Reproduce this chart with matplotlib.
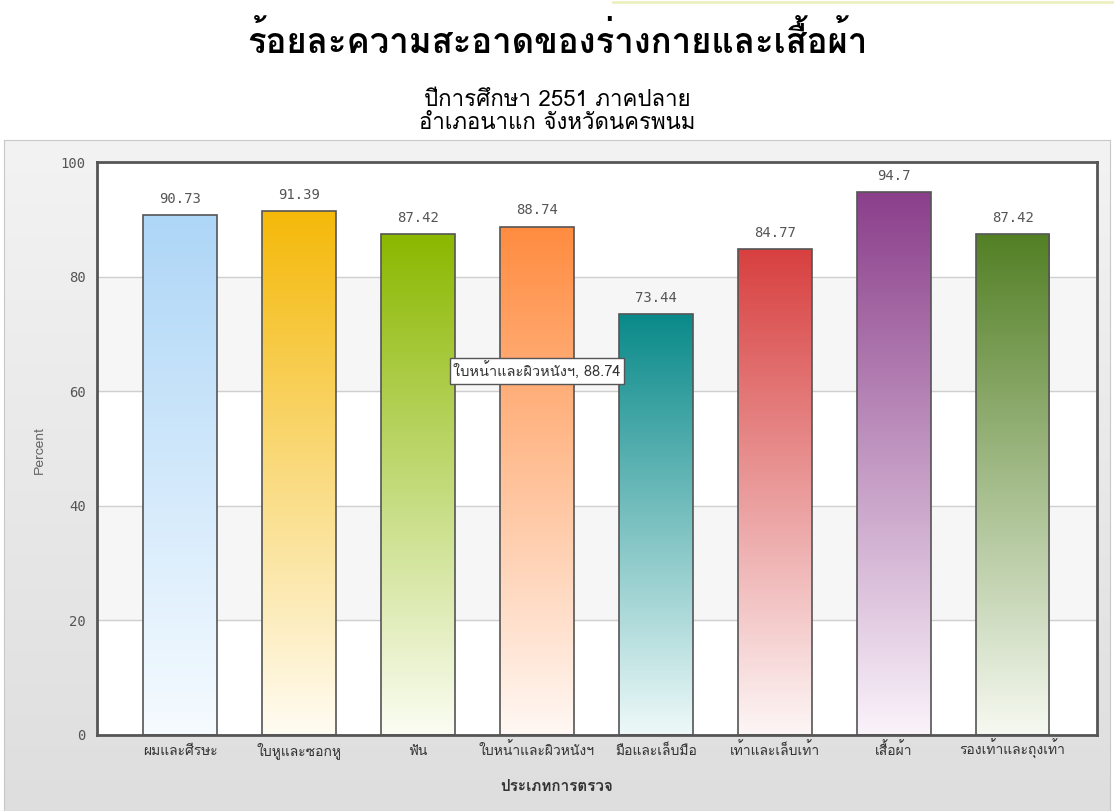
import matplotlib
matplotlib.use('Agg')
import matplotlib.pyplot as plt
import matplotlib.font_manager as font_manager
import matplotlib.transforms as mtransforms
from matplotlib.ft2font import FT2Font
from matplotlib.colors import to_rgb, LinearSegmentedColormap
from matplotlib.patches import Rectangle
import numpy as np

categories = ['ผมและศีรษะ', 'ใบหูและซอกหู', 'ฟัน', 'ใบหน้าและผิวหนังฯ',
              'มือและเล็บมือ', 'เท้าและเล็บเท้า', 'เสื้อผ้า', 'รองเท้าและถุงเท้า']
values = [90.73, 91.39, 87.42, 88.74, 73.44, 84.77, 94.7, 87.42]
value_labels = ['90.73', '91.39', '87.42', '88.74', '73.44', '84.77', '94.7', '87.42']
top_colors = ['#aed6f7', '#f5b90a', '#8bb800', '#ff8c40', '#0a8a8a', '#d84040', '#8b3f8b', '#538025']
bottom_colors = ['#f6fbff', '#fffcf2', '#fbfdf3', '#fff8f4', '#eef9f9', '#fdf6f6', '#faf3fa', '#f6f9f1']
yticks = [0, 20, 40, 60, 80, 100]

title = 'ร้อยละความสะอาดของร่างกายและเสื้อผ้า'
subtitle = 'ปีการศึกษา 2551 ภาคปลาย\nอำเภอนาแก จังหวัดนครพนม'
xlabel = 'ประเภทการตรวจ'
ylabel = 'Percent'
tooltip = 'ใบหน้าและผิวหนังฯ, 88.74'


# find a font that has thai glyphs
def find_thai():
    names = []
    for f in font_manager.fontManager.ttflist:
        try:
            cmap = FT2Font(f.fname).get_charmap()
        except Exception:
            continue
        if ord('ก') in cmap and f.name not in names:
            names.append(f.name)
    return names

thai = find_thai()
plt.rcParams['font.family'] = thai[:1] + ['DejaVu Sans']

fig = plt.figure(figsize=(11.14, 8.11), dpi=100)

# faint yellow line at the very top
fig.add_artist(plt.Line2D([0.55, 1.0], [0.998, 0.998], color='#eef0c0', lw=2, transform=fig.transFigure))

# outer panel with light gray gradient
bg = fig.add_axes([0.004, 0.0, 0.992, 1 - 140 / 811], zorder=0)
grad = np.linspace(0, 1, 256).reshape(-1, 1)
bg.imshow(grad, aspect='auto', cmap=LinearSegmentedColormap.from_list('g', ['#f3f3f3', '#dedede']),
          extent=[0, 1, 0, 1])
bg.set_xticks([]); bg.set_yticks([])
for s in bg.spines.values():
    s.set_color('#c8c8c8')

ax = fig.add_axes([97 / 1114, 1 - 735 / 811, 1000 / 1114, 573 / 811], zorder=1)
x = np.arange(len(categories))

# alternating bands
for i in range(5):
    ax.axhspan(i * 20, (i + 1) * 20, color='white' if i % 2 == 0 else '#f6f6f6', zorder=0)
for t in yticks[1:-1]:
    ax.axhline(t, color='#cfcfcf', lw=1, zorder=0.5)

bars = ax.bar(x, values, width=0.62, facecolor='none', edgecolor='#555555', lw=1.2, zorder=3)
for i, b in enumerate(bars):
    c1 = np.array(to_rgb(top_colors[i]))
    c2 = np.array(to_rgb(bottom_colors[i]))
    t = np.linspace(0, 1, 200).reshape(-1, 1, 1)
    img = c1 * (1 - t) + c2 * t
    im = ax.imshow(img, aspect='auto', extent=[b.get_x(), b.get_x() + b.get_width(), 0, values[i]],
                   zorder=2, interpolation='bilinear')
    im.set_clip_path(Rectangle((b.get_x(), 0), b.get_width(), values[i], transform=ax.transData))
    ax.text(x[i], values[i] + 1.6, value_labels[i], ha='center', va='bottom', fontsize=10,
            color='#555555', family='DejaVu Sans Mono')

ax.set_xlim(-0.70, 7.71)
ax.set_ylim(0, 100)

ax.set_yticks(yticks)
ax.set_yticklabels([str(v) for v in yticks], family='DejaVu Sans Mono', fontsize=10, color='#555555')
ax.set_xticks(x)
ax.set_xticklabels([])
ax.tick_params(axis='both', length=0, pad=8)
for s in ax.spines.values():
    s.set_color('#555555')
    s.set_linewidth(2)

# category labels on a common baseline
trans = mtransforms.blended_transform_factory(ax.transData, fig.transFigure)
for i, c in enumerate(categories):
    ax.text(x[i], 1 - 755 / 811, c, transform=trans, ha='center', va='baseline',
            fontsize=10, color='#333333')

fig.text(0.5, 1 - 791 / 811, xlabel, ha='center', va='baseline', fontsize=11, fontweight='bold', color='#333333')
fig.text(40 / 1114, 1 - 450 / 811, ylabel, ha='center', va='center', rotation=90, fontsize=10, color='#666666')

ax.text(3.0, 63.5, tooltip, ha='center', va='center', fontsize=10.5, color='#333333', zorder=5,
        bbox=dict(boxstyle='square,pad=0.25', fc='white', ec='#555555', lw=1))

fig.text(0.5, 1 - 40 / 811, title, ha='center', va='center', fontsize=25, fontweight='bold')
fig.text(0.5, 1 - 112 / 811, subtitle, ha='center', va='center', fontsize=16, linespacing=1.1)

fig.savefig('out.png', dpi=100)
